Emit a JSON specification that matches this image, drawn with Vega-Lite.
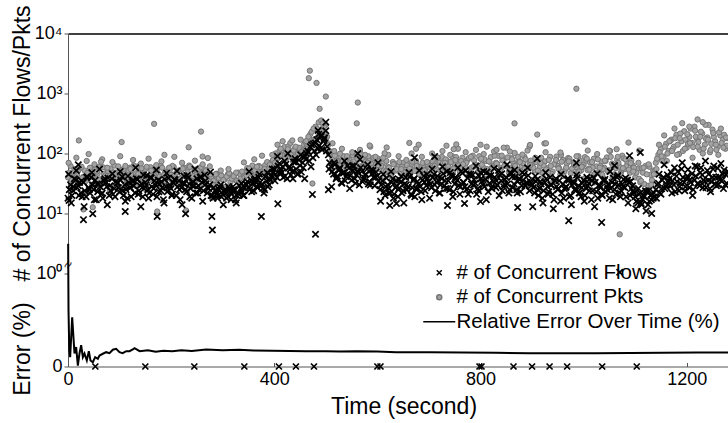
{
"$schema":"https://vega.github.io/schema/vega-lite/v6.json",
"background":"white",
"padding":{"left":10,"top":4.5,"right":0,"bottom":0},
"autosize":{"type":"pad"},
"spacing":0,
"bounds":"flush",
"config":{
 "font":"Liberation Sans",
 "view":{"stroke":null},
 "axis":{"grid":false,"domainColor":"#555","tickColor":"#555","labelFont":"Liberation Sans","labelFontSize":18,"labelColor":"#000","titleFont":"Liberation Sans","titleFontSize":23,"titleFontWeight":"normal","titleColor":"#000","labelFlush":false,"labelOverlap":false},
 "legend":{"labelFont":"Liberation Sans","labelFontSize":20.5,"labelColor":"#000","labelLimit":0,"symbolSize":25,"symbolStrokeWidth":1.5,"labelOffset":7,"rowPadding":3.5,"padding":0}
},
"datasets":{
"pts":[
{"t":0,"f":18,"p":40},{"t":5,"f":30,"p":62},{"t":10,"f":24,"p":45},{"t":15,"f":36,"p":38},{"t":20,"f":29,"p":52},{"t":25,"f":22,"p":58},{"t":30,"f":33,"p":41},{"t":35,"f":19,"p":35},{"t":40,"f":27,"p":48},{"t":45,"f":40,"p":55},
{"t":50,"f":25,"p":43},{"t":55,"f":17,"p":31},{"t":60,"f":31,"p":60},{"t":65,"f":21,"p":37},{"t":70,"f":35,"p":46},{"t":75,"f":28,"p":57},{"t":80,"f":20,"p":42},{"t":85,"f":38,"p":50},{"t":90,"f":26,"p":63},{"t":95,"f":32,"p":44},
{"t":100,"f":23,"p":39},{"t":105,"f":41,"p":53},{"t":110,"f":30,"p":47},{"t":115,"f":18,"p":34},{"t":120,"f":27,"p":58},{"t":125,"f":34,"p":45},{"t":130,"f":22,"p":40},{"t":135,"f":37,"p":61},{"t":140,"f":29,"p":49},{"t":145,"f":19,"p":36},
{"t":150,"f":33,"p":55},{"t":155,"f":25,"p":42},{"t":160,"f":40,"p":59},{"t":165,"f":21,"p":38},{"t":170,"f":30,"p":51},{"t":175,"f":36,"p":46},{"t":180,"f":24,"p":62},{"t":185,"f":17,"p":33},{"t":190,"f":28,"p":49},{"t":195,"f":39,"p":56},
{"t":200,"f":26,"p":44},{"t":205,"f":32,"p":60},{"t":210,"f":20,"p":37},{"t":215,"f":35,"p":52},{"t":220,"f":27,"p":47},{"t":225,"f":42,"p":58},{"t":230,"f":23,"p":41},{"t":235,"f":31,"p":63},{"t":240,"f":18,"p":35},{"t":245,"f":29,"p":50},
{"t":250,"f":38,"p":45},{"t":255,"f":25,"p":57},{"t":260,"f":33,"p":48},{"t":265,"f":44,"p":54},{"t":270,"f":22,"p":39},{"t":275,"f":30,"p":61},{"t":280,"f":20,"p":36},{"t":285,"f":24,"p":43},{"t":290,"f":18,"p":34},{"t":295,"f":27,"p":47},
{"t":300,"f":21,"p":40},{"t":305,"f":25,"p":38},{"t":310,"f":19,"p":45},{"t":315,"f":23,"p":33},{"t":320,"f":28,"p":42},{"t":325,"f":17,"p":36},{"t":330,"f":22,"p":48},{"t":335,"f":26,"p":39},{"t":340,"f":20,"p":44},{"t":345,"f":31,"p":50},
{"t":350,"f":27,"p":55},{"t":355,"f":36,"p":46},{"t":360,"f":24,"p":58},{"t":365,"f":33,"p":41},{"t":370,"f":40,"p":62},{"t":375,"f":29,"p":53},{"t":380,"f":22,"p":45},{"t":385,"f":35,"p":60},{"t":390,"f":30,"p":49},{"t":395,"f":43,"p":66},
{"t":400,"f":55,"p":92},{"t":405,"f":40,"p":80},{"t":410,"f":68,"p":110},{"t":415,"f":48,"p":95},{"t":420,"f":75,"p":128},{"t":425,"f":38,"p":85},{"t":430,"f":60,"p":105},{"t":435,"f":50,"p":88},{"t":440,"f":82,"p":120},{"t":445,"f":45,"p":98},
{"t":450,"f":63,"p":115},{"t":455,"f":70,"p":100},{"t":460,"f":90,"p":130},{"t":465,"f":110,"p":160},{"t":470,"f":130,"p":210},{"t":475,"f":85,"p":150},{"t":480,"f":150,"p":280},{"t":485,"f":120,"p":190},{"t":490,"f":200,"p":250},{"t":495,"f":160,"p":220},
{"t":500,"f":240,"p":300},{"t":505,"f":95,"p":140},{"t":510,"f":60,"p":95},{"t":515,"f":45,"p":72},{"t":520,"f":38,"p":85},{"t":525,"f":52,"p":63},{"t":530,"f":33,"p":78},{"t":535,"f":48,"p":90},{"t":540,"f":41,"p":66},{"t":545,"f":57,"p":82},
{"t":550,"f":36,"p":58},{"t":555,"f":62,"p":74},{"t":560,"f":44,"p":96},{"t":565,"f":30,"p":61},{"t":570,"f":50,"p":80},{"t":575,"f":39,"p":70},{"t":580,"f":55,"p":88},{"t":585,"f":34,"p":57},{"t":590,"f":46,"p":76},{"t":595,"f":29,"p":64},
{"t":600,"f":42,"p":83},{"t":605,"f":25,"p":55},{"t":610,"f":35,"p":68},{"t":615,"f":20,"p":48},{"t":620,"f":30,"p":60},{"t":625,"f":22,"p":44},{"t":630,"f":38,"p":72},{"t":635,"f":27,"p":52},{"t":640,"f":19,"p":63},{"t":645,"f":33,"p":47},
{"t":650,"f":24,"p":70},{"t":655,"f":40,"p":58},{"t":660,"f":28,"p":42},{"t":665,"f":21,"p":66},{"t":670,"f":36,"p":54},{"t":675,"f":26,"p":75},{"t":680,"f":31,"p":49},{"t":685,"f":23,"p":61},{"t":690,"f":42,"p":57},{"t":695,"f":29,"p":45},
{"t":700,"f":34,"p":69},{"t":705,"f":27,"p":62},{"t":710,"f":45,"p":80},{"t":715,"f":33,"p":55},{"t":720,"f":22,"p":70},{"t":725,"f":38,"p":88},{"t":730,"f":29,"p":58},{"t":735,"f":50,"p":76},{"t":740,"f":25,"p":52},{"t":745,"f":41,"p":90},
{"t":750,"f":31,"p":64},{"t":755,"f":36,"p":73},{"t":760,"f":21,"p":50},{"t":765,"f":47,"p":85},{"t":770,"f":28,"p":60},{"t":775,"f":39,"p":78},{"t":780,"f":24,"p":56},{"t":785,"f":44,"p":92},{"t":790,"f":32,"p":66},{"t":795,"f":26,"p":49},
{"t":800,"f":48,"p":82},{"t":805,"f":30,"p":59},{"t":810,"f":37,"p":75},{"t":815,"f":23,"p":53},{"t":820,"f":43,"p":87},{"t":825,"f":34,"p":63},{"t":830,"f":27,"p":70},{"t":835,"f":52,"p":91},{"t":840,"f":35,"p":57},{"t":845,"f":28,"p":79},
{"t":850,"f":40,"p":62},{"t":855,"f":22,"p":48},{"t":860,"f":46,"p":84},{"t":865,"f":31,"p":68},{"t":870,"f":25,"p":55},{"t":875,"f":38,"p":76},{"t":880,"f":29,"p":61},{"t":885,"f":45,"p":89},{"t":890,"f":33,"p":58},{"t":895,"f":24,"p":72},
{"t":900,"f":30,"p":67},{"t":905,"f":22,"p":52},{"t":910,"f":37,"p":80},{"t":915,"f":26,"p":60},{"t":920,"f":18,"p":48},{"t":925,"f":33,"p":74},{"t":930,"f":28,"p":57},{"t":935,"f":40,"p":88},{"t":940,"f":21,"p":50},{"t":945,"f":35,"p":69},
{"t":950,"f":25,"p":62},{"t":955,"f":16,"p":45},{"t":960,"f":31,"p":78},{"t":965,"f":27,"p":55},{"t":970,"f":38,"p":84},{"t":975,"f":20,"p":47},{"t":980,"f":34,"p":71},{"t":985,"f":24,"p":59},{"t":990,"f":29,"p":90},{"t":995,"f":19,"p":52},
{"t":1000,"f":36,"p":65},{"t":1005,"f":26,"p":76},{"t":1010,"f":32,"p":56},{"t":1015,"f":17,"p":44},{"t":1020,"f":39,"p":82},{"t":1025,"f":23,"p":61},{"t":1030,"f":30,"p":49},{"t":1035,"f":21,"p":73},{"t":1040,"f":35,"p":58},{"t":1045,"f":28,"p":86},
{"t":1050,"f":18,"p":53},{"t":1055,"f":33,"p":68},{"t":1060,"f":25,"p":45},{"t":1065,"f":40,"p":79},{"t":1070,"f":22,"p":60},{"t":1075,"f":31,"p":92},{"t":1080,"f":27,"p":55},{"t":1085,"f":36,"p":70},{"t":1090,"f":20,"p":48},{"t":1095,"f":29,"p":64},
{"t":1100,"f":19,"p":40},{"t":1105,"f":15,"p":55},{"t":1110,"f":22,"p":33},{"t":1115,"f":17,"p":48},{"t":1120,"f":24,"p":62},{"t":1125,"f":14,"p":29},{"t":1130,"f":20,"p":44},{"t":1135,"f":18,"p":52},
{"t":1140,"f":25,"p":70},{"t":1145,"f":32,"p":95},{"t":1150,"f":21,"p":120},{"t":1155,"f":40,"p":88},{"t":1160,"f":28,"p":145},{"t":1165,"f":35,"p":110},{"t":1170,"f":48,"p":170},{"t":1175,"f":30,"p":130},{"t":1180,"f":42,"p":205},{"t":1185,"f":24,"p":98},
{"t":1190,"f":55,"p":160},{"t":1195,"f":33,"p":235},{"t":1200,"f":38,"p":125},{"t":1205,"f":27,"p":190},{"t":1210,"f":46,"p":150},{"t":1215,"f":36,"p":280},{"t":1220,"f":60,"p":175},{"t":1225,"f":29,"p":115},{"t":1230,"f":44,"p":215},{"t":1235,"f":34,"p":140},
{"t":1240,"f":52,"p":185},{"t":1245,"f":26,"p":105},{"t":1250,"f":40,"p":250},{"t":1255,"f":31,"p":160},{"t":1260,"f":57,"p":130},{"t":1265,"f":37,"p":200},{"t":1270,"f":45,"p":170},{"t":1275,"f":30,"p":120},{"t":1280,"f":50,"p":180},
{"t":2.5,"f":25,"p":48},{"t":7.5,"f":20,"p":36},{"t":12.5,"f":38,"p":55},{"t":17.5,"f":27,"p":44},{"t":22.5,"f":33,"p":60},{"t":27.5,"f":19,"p":39},{"t":32.5,"f":24,"p":52},{"t":37.5,"f":41,"p":47},{"t":42.5,"f":22,"p":58},{"t":47.5,"f":30,"p":41},
{"t":52.5,"f":36,"p":54},{"t":57.5,"f":23,"p":46},{"t":62.5,"f":28,"p":37},{"t":67.5,"f":18,"p":59},{"t":72.5,"f":32,"p":43},{"t":77.5,"f":39,"p":51},{"t":82.5,"f":24,"p":56},{"t":87.5,"f":21,"p":40},{"t":92.5,"f":34,"p":48},{"t":97.5,"f":27,"p":61},
{"t":102.5,"f":36,"p":42},{"t":107.5,"f":20,"p":55},{"t":112.5,"f":25,"p":38},{"t":117.5,"f":33,"p":52},{"t":122.5,"f":19,"p":44},{"t":127.5,"f":29,"p":63},{"t":132.5,"f":38,"p":47},{"t":137.5,"f":24,"p":39},{"t":142.5,"f":31,"p":57},{"t":147.5,"f":26,"p":45},
{"t":152.5,"f":43,"p":60},{"t":157.5,"f":22,"p":36},{"t":162.5,"f":28,"p":50},{"t":167.5,"f":35,"p":43},{"t":172.5,"f":19,"p":55},{"t":177.5,"f":31,"p":41},{"t":182.5,"f":27,"p":58},{"t":187.5,"f":37,"p":47},{"t":192.5,"f":23,"p":39},{"t":197.5,"f":30,"p":53},
{"t":202.5,"f":21,"p":62},{"t":207.5,"f":36,"p":45},{"t":212.5,"f":28,"p":51},{"t":217.5,"f":17,"p":38},{"t":222.5,"f":32,"p":56},{"t":227.5,"f":25,"p":43},{"t":232.5,"f":39,"p":49},{"t":237.5,"f":26,"p":60},{"t":242.5,"f":34,"p":42},{"t":247.5,"f":22,"p":54},
{"t":252.5,"f":29,"p":37},{"t":257.5,"f":41,"p":59},{"t":262.5,"f":24,"p":46},{"t":267.5,"f":31,"p":52},{"t":272.5,"f":26,"p":44},{"t":277.5,"f":20,"p":41},{"t":282.5,"f":27,"p":35},{"t":287.5,"f":21,"p":46},{"t":292.5,"f":25,"p":39},{"t":297.5,"f":19,"p":43},
{"t":302.5,"f":24,"p":36},{"t":307.5,"f":18,"p":41},{"t":312.5,"f":26,"p":47},{"t":317.5,"f":21,"p":38},{"t":322.5,"f":24,"p":44},{"t":327.5,"f":20,"p":35},{"t":332.5,"f":29,"p":46},{"t":337.5,"f":23,"p":50},{"t":342.5,"f":27,"p":40},{"t":347.5,"f":34,"p":57},
{"t":352.5,"f":25,"p":48},{"t":357.5,"f":31,"p":63},{"t":362.5,"f":38,"p":52},{"t":367.5,"f":27,"p":45},{"t":372.5,"f":33,"p":59},{"t":377.5,"f":26,"p":50},{"t":382.5,"f":41,"p":64},{"t":387.5,"f":28,"p":55},{"t":392.5,"f":36,"p":70},{"t":397.5,"f":48,"p":78},
{"t":402.5,"f":45,"p":100},{"t":407.5,"f":62,"p":85},{"t":412.5,"f":52,"p":120},{"t":417.5,"f":40,"p":90},{"t":422.5,"f":66,"p":108},{"t":427.5,"f":57,"p":132},{"t":432.5,"f":44,"p":95},{"t":437.5,"f":72,"p":112},{"t":442.5,"f":55,"p":90},{"t":447.5,"f":78,"p":125},
{"t":452.5,"f":49,"p":105},{"t":457.5,"f":85,"p":140},{"t":462.5,"f":100,"p":145},{"t":467.5,"f":75,"p":180},{"t":472.5,"f":140,"p":230},{"t":477.5,"f":110,"p":170},{"t":482.5,"f":170,"p":260},{"t":487.5,"f":135,"p":200},{"t":492.5,"f":115,"p":240},{"t":497.5,"f":180,"p":210},
{"t":502.5,"f":130,"p":190},{"t":507.5,"f":70,"p":110},{"t":512.5,"f":50,"p":80},{"t":517.5,"f":65,"p":92},{"t":522.5,"f":42,"p":70},{"t":527.5,"f":58,"p":99},{"t":532.5,"f":47,"p":75},{"t":537.5,"f":35,"p":60},{"t":542.5,"f":63,"p":87},{"t":547.5,"f":43,"p":68},
{"t":552.5,"f":52,"p":93},{"t":557.5,"f":32,"p":62},{"t":562.5,"f":48,"p":79},{"t":567.5,"f":58,"p":100},{"t":572.5,"f":37,"p":65},{"t":577.5,"f":45,"p":73},{"t":582.5,"f":31,"p":90},{"t":587.5,"f":53,"p":68},{"t":592.5,"f":40,"p":85},{"t":597.5,"f":49,"p":58},
{"t":602.5,"f":35,"p":74},{"t":607.5,"f":30,"p":62},{"t":612.5,"f":23,"p":52},{"t":617.5,"f":39,"p":75},{"t":622.5,"f":26,"p":58},{"t":627.5,"f":33,"p":46},{"t":632.5,"f":21,"p":67},{"t":637.5,"f":29,"p":55},{"t":642.5,"f":37,"p":72},{"t":647.5,"f":22,"p":60},
{"t":652.5,"f":31,"p":48},{"t":657.5,"f":25,"p":64},{"t":662.5,"f":41,"p":56},{"t":667.5,"f":27,"p":73},{"t":672.5,"f":19,"p":51},{"t":677.5,"f":34,"p":62},{"t":682.5,"f":28,"p":44},{"t":687.5,"f":36,"p":70},{"t":692.5,"f":24,"p":53},{"t":697.5,"f":39,"p":66},
{"t":702.5,"f":31,"p":58},{"t":707.5,"f":40,"p":74},{"t":712.5,"f":24,"p":66},{"t":717.5,"f":36,"p":85},{"t":722.5,"f":30,"p":52},{"t":727.5,"f":46,"p":70},{"t":732.5,"f":26,"p":80},{"t":737.5,"f":35,"p":60},{"t":742.5,"f":43,"p":72},{"t":747.5,"f":23,"p":56},
{"t":752.5,"f":38,"p":87},{"t":757.5,"f":29,"p":63},{"t":762.5,"f":50,"p":75},{"t":767.5,"f":33,"p":52},{"t":772.5,"f":25,"p":70},{"t":777.5,"f":45,"p":84},{"t":782.5,"f":31,"p":58},{"t":787.5,"f":37,"p":77},{"t":792.5,"f":21,"p":61},{"t":797.5,"f":42,"p":90},
{"t":802.5,"f":34,"p":65},{"t":807.5,"f":28,"p":80},{"t":812.5,"f":49,"p":55},{"t":817.5,"f":32,"p":73},{"t":822.5,"f":26,"p":59},{"t":827.5,"f":40,"p":92},{"t":832.5,"f":30,"p":67},{"t":837.5,"f":44,"p":53},{"t":842.5,"f":24,"p":77},{"t":847.5,"f":37,"p":64},
{"t":852.5,"f":31,"p":86},{"t":857.5,"f":48,"p":58},{"t":862.5,"f":27,"p":74},{"t":867.5,"f":41,"p":62},{"t":872.5,"f":34,"p":88},{"t":877.5,"f":23,"p":51},{"t":882.5,"f":36,"p":69},{"t":887.5,"f":29,"p":80},{"t":892.5,"f":43,"p":57},{"t":897.5,"f":32,"p":76},
{"t":902.5,"f":27,"p":58},{"t":907.5,"f":34,"p":72},{"t":912.5,"f":20,"p":50},{"t":917.5,"f":31,"p":85},{"t":922.5,"f":24,"p":63},{"t":927.5,"f":38,"p":54},{"t":932.5,"f":23,"p":78},{"t":937.5,"f":30,"p":46},{"t":942.5,"f":17,"p":66},{"t":947.5,"f":28,"p":89},
{"t":952.5,"f":35,"p":57},{"t":957.5,"f":22,"p":73},{"t":962.5,"f":26,"p":50},{"t":967.5,"f":37,"p":68},{"t":972.5,"f":19,"p":82},{"t":977.5,"f":30,"p":56},{"t":982.5,"f":25,"p":64},{"t":987.5,"f":39,"p":48},{"t":992.5,"f":22,"p":76},{"t":997.5,"f":32,"p":60},
{"t":1002.5,"f":20,"p":87},{"t":1007.5,"f":29,"p":53},{"t":1012.5,"f":38,"p":71},{"t":1017.5,"f":24,"p":58},{"t":1022.5,"f":33,"p":47},{"t":1027.5,"f":18,"p":80},{"t":1032.5,"f":27,"p":62},{"t":1037.5,"f":36,"p":55},{"t":1042.5,"f":23,"p":75},{"t":1047.5,"f":31,"p":50},
{"t":1052.5,"f":26,"p":88},{"t":1057.5,"f":39,"p":63},{"t":1062.5,"f":21,"p":57},{"t":1067.5,"f":30,"p":70},{"t":1072.5,"f":24,"p":49},{"t":1077.5,"f":37,"p":83},{"t":1082.5,"f":19,"p":61},{"t":1087.5,"f":33,"p":54},{"t":1092.5,"f":26,"p":77},{"t":1097.5,"f":22,"p":58},
{"t":1102.5,"f":16,"p":48},{"t":1107.5,"f":21,"p":38},{"t":1112.5,"f":14,"p":57},{"t":1117.5,"f":19,"p":31},{"t":1122.5,"f":23,"p":45},{"t":1127.5,"f":16,"p":60},{"t":1132.5,"f":21,"p":36},{"t":1137.5,"f":19,"p":50},
{"t":1142.5,"f":30,"p":82},{"t":1147.5,"f":22,"p":105},{"t":1152.5,"f":36,"p":75},{"t":1157.5,"f":26,"p":130},{"t":1162.5,"f":44,"p":100},{"t":1167.5,"f":29,"p":160},{"t":1172.5,"f":35,"p":118},{"t":1177.5,"f":23,"p":180},{"t":1182.5,"f":50,"p":140},{"t":1187.5,"f":32,"p":215},
{"t":1192.5,"f":40,"p":110},{"t":1197.5,"f":28,"p":170},{"t":1202.5,"f":54,"p":145},{"t":1207.5,"f":33,"p":260},{"t":1212.5,"f":25,"p":128},{"t":1217.5,"f":42,"p":190},{"t":1222.5,"f":31,"p":155},{"t":1227.5,"f":58,"p":230},{"t":1232.5,"f":36,"p":120},{"t":1237.5,"f":27,"p":175},
{"t":1242.5,"f":45,"p":300},{"t":1247.5,"f":34,"p":145},{"t":1252.5,"f":62,"p":190},{"t":1257.5,"f":29,"p":115},{"t":1262.5,"f":41,"p":225},{"t":1267.5,"f":35,"p":150},{"t":1272.5,"f":53,"p":205},{"t":1277.5,"f":32,"p":135},
{"t":1.25,"f":45,"p":70},{"t":6.25,"f":15,"p":25},{"t":11.25,"f":28,"p":48},{"t":16.25,"f":52,"p":85},{"t":21.25,"f":20,"p":32},{"t":26.25,"f":35,"p":60},{"t":31.25,"f":13,"p":22},{"t":36.25,"f":40,"p":75},{"t":41.25,"f":25,"p":40},{"t":46.25,"f":48,"p":30},
{"t":51.25,"f":17,"p":66},{"t":56.25,"f":31,"p":50},{"t":61.25,"f":55,"p":28},{"t":66.25,"f":22,"p":80},{"t":71.25,"f":38,"p":35},{"t":76.25,"f":14,"p":58},{"t":81.25,"f":29,"p":24},{"t":86.25,"f":46,"p":72},{"t":91.25,"f":19,"p":45},{"t":96.25,"f":33,"p":38},
{"t":101.25,"f":50,"p":90},{"t":106.25,"f":24,"p":27},{"t":111.25,"f":16,"p":62},{"t":116.25,"f":42,"p":33},{"t":121.25,"f":27,"p":55},{"t":126.25,"f":36,"p":78},{"t":131.25,"f":58,"p":29},{"t":136.25,"f":21,"p":46},{"t":141.25,"f":13,"p":68},{"t":146.25,"f":44,"p":36},
{"t":151.25,"f":30,"p":25},{"t":156.25,"f":18,"p":82},{"t":161.25,"f":39,"p":52},{"t":166.25,"f":26,"p":40},{"t":171.25,"f":53,"p":64},{"t":176.25,"f":23,"p":30},{"t":181.25,"f":34,"p":74},{"t":186.25,"f":15,"p":44},{"t":191.25,"f":47,"p":26},{"t":196.25,"f":28,"p":58},
{"t":201.25,"f":20,"p":36},{"t":206.25,"f":37,"p":88},{"t":211.25,"f":51,"p":48},{"t":216.25,"f":25,"p":31},{"t":221.25,"f":14,"p":70},{"t":226.25,"f":32,"p":42},{"t":231.25,"f":43,"p":23},{"t":236.25,"f":19,"p":60},{"t":241.25,"f":29,"p":34},{"t":246.25,"f":55,"p":76},
{"t":251.25,"f":22,"p":52},{"t":256.25,"f":40,"p":28},{"t":261.25,"f":16,"p":66},{"t":266.25,"f":35,"p":39},{"t":271.25,"f":27,"p":84},{"t":276.25,"f":49,"p":45},{"t":281.25,"f":18,"p":30},{"t":286.25,"f":24,"p":45},{"t":291.25,"f":20,"p":25},{"t":296.25,"f":30,"p":52},
{"t":301.25,"f":14,"p":36},{"t":306.25,"f":22,"p":28},{"t":311.25,"f":28,"p":55},{"t":316.25,"f":17,"p":24},{"t":321.25,"f":25,"p":42},{"t":326.25,"f":15,"p":48},{"t":331.25,"f":21,"p":33},{"t":336.25,"f":32,"p":24},{"t":341.25,"f":20,"p":71},{"t":346.25,"f":30,"p":43},
{"t":351.25,"f":50,"p":56},{"t":356.25,"f":23,"p":32},{"t":361.25,"f":36,"p":80},{"t":366.25,"f":28,"p":60},{"t":371.25,"f":45,"p":46},{"t":376.25,"f":31,"p":92},{"t":381.25,"f":25,"p":55},{"t":386.25,"f":48,"p":72},{"t":391.25,"f":38,"p":65},{"t":396.25,"f":55,"p":95},
{"t":401.25,"f":35,"p":70},{"t":406.25,"f":90,"p":140},{"t":411.25,"f":48,"p":95},{"t":416.25,"f":60,"p":160},{"t":421.25,"f":42,"p":82},{"t":426.25,"f":100,"p":118},{"t":431.25,"f":55,"p":150},{"t":436.25,"f":38,"p":75},{"t":441.25,"f":72,"p":130},{"t":446.25,"f":46,"p":100},
{"t":451.25,"f":95,"p":170},{"t":456.25,"f":58,"p":90},{"t":461.25,"f":80,"p":120},{"t":466.25,"f":105,"p":190},{"t":471.25,"f":60,"p":140},{"t":476.25,"f":145,"p":260},{"t":481.25,"f":95,"p":175},{"t":486.25,"f":210,"p":330},{"t":491.25,"f":125,"p":230},{"t":496.25,"f":170,"p":280},
{"t":501.25,"f":110,"p":160},{"t":506.25,"f":55,"p":100},{"t":511.25,"f":28,"p":55},{"t":516.25,"f":70,"p":110},{"t":521.25,"f":40,"p":75},{"t":526.25,"f":55,"p":62},{"t":531.25,"f":32,"p":120},{"t":536.25,"f":75,"p":48},{"t":541.25,"f":45,"p":90},{"t":546.25,"f":26,"p":68},
{"t":551.25,"f":62,"p":105},{"t":556.25,"f":38,"p":52},{"t":561.25,"f":50,"p":82},{"t":566.25,"f":80,"p":115},{"t":571.25,"f":34,"p":60},{"t":576.25,"f":44,"p":95},{"t":581.25,"f":65,"p":70},{"t":586.25,"f":30,"p":130},{"t":591.25,"f":52,"p":58},{"t":596.25,"f":40,"p":88},
{"t":601.25,"f":70,"p":64},{"t":606.25,"f":16,"p":38},{"t":611.25,"f":45,"p":85},{"t":616.25,"f":28,"p":50},{"t":621.25,"f":22,"p":95},{"t":626.25,"f":50,"p":42},{"t":631.25,"f":18,"p":66},{"t":636.25,"f":35,"p":35},{"t":641.25,"f":26,"p":90},{"t":646.25,"f":42,"p":55},
{"t":651.25,"f":15,"p":40},{"t":656.25,"f":30,"p":78},{"t":661.25,"f":48,"p":48},{"t":666.25,"f":20,"p":100},{"t":671.25,"f":38,"p":36},{"t":676.25,"f":25,"p":62},{"t":681.25,"f":52,"p":45},{"t":686.25,"f":17,"p":88},{"t":691.25,"f":33,"p":52},{"t":696.25,"f":45,"p":72},
{"t":701.25,"f":18,"p":45},{"t":706.25,"f":55,"p":100},{"t":711.25,"f":30,"p":62},{"t":716.25,"f":42,"p":85},{"t":721.25,"f":22,"p":40},{"t":726.25,"f":60,"p":110},{"t":731.25,"f":35,"p":70},{"t":736.25,"f":26,"p":52},{"t":741.25,"f":48,"p":95},{"t":746.25,"f":19,"p":48},
{"t":751.25,"f":40,"p":78},{"t":756.25,"f":58,"p":120},{"t":761.25,"f":28,"p":58},{"t":766.25,"f":33,"p":66},{"t":771.25,"f":52,"p":105},{"t":776.25,"f":21,"p":42},{"t":781.25,"f":45,"p":88},{"t":786.25,"f":30,"p":60},{"t":791.25,"f":62,"p":115},{"t":796.25,"f":24,"p":50},
{"t":801.25,"f":38,"p":82},{"t":806.25,"f":50,"p":98},{"t":811.25,"f":17,"p":38},{"t":816.25,"f":43,"p":74},{"t":821.25,"f":27,"p":55},{"t":826.25,"f":56,"p":108},{"t":831.25,"f":35,"p":68},{"t":836.25,"f":20,"p":44},{"t":841.25,"f":46,"p":92},{"t":846.25,"f":31,"p":62},
{"t":851.25,"f":65,"p":125},{"t":856.25,"f":25,"p":52},{"t":861.25,"f":41,"p":80},{"t":866.25,"f":53,"p":102},{"t":871.25,"f":22,"p":46},{"t":876.25,"f":37,"p":72},{"t":881.25,"f":48,"p":96},{"t":886.25,"f":29,"p":56},{"t":891.25,"f":58,"p":112},{"t":896.25,"f":34,"p":64},
{"t":901.25,"f":13,"p":36},{"t":906.25,"f":42,"p":85},{"t":911.25,"f":25,"p":52},{"t":916.25,"f":34,"p":70},{"t":921.25,"f":15,"p":40},{"t":926.25,"f":48,"p":105},{"t":931.25,"f":21,"p":48},{"t":936.25,"f":30,"p":62},{"t":941.25,"f":12,"p":34},{"t":946.25,"f":38,"p":78},
{"t":951.25,"f":26,"p":56},{"t":956.25,"f":45,"p":95},{"t":961.25,"f":18,"p":42},{"t":966.25,"f":28,"p":58},{"t":971.25,"f":36,"p":74},{"t":976.25,"f":14,"p":35},{"t":981.25,"f":32,"p":66},{"t":986.25,"f":44,"p":90},{"t":991.25,"f":22,"p":50},{"t":996.25,"f":27,"p":60},
{"t":1001.25,"f":16,"p":38},{"t":1006.25,"f":40,"p":82},{"t":1011.25,"f":24,"p":54},{"t":1016.25,"f":35,"p":72},{"t":1021.25,"f":13,"p":33},{"t":1026.25,"f":46,"p":98},{"t":1031.25,"f":29,"p":58},{"t":1036.25,"f":20,"p":44},{"t":1041.25,"f":37,"p":76},{"t":1046.25,"f":25,"p":52},
{"t":1051.25,"f":50,"p":110},{"t":1056.25,"f":17,"p":40},{"t":1061.25,"f":31,"p":64},{"t":1066.25,"f":43,"p":88},{"t":1071.25,"f":19,"p":46},{"t":1076.25,"f":28,"p":57},{"t":1081.25,"f":39,"p":80},{"t":1086.25,"f":15,"p":36},{"t":1091.25,"f":34,"p":69},{"t":1096.25,"f":24,"p":50},
{"t":1101.25,"f":12,"p":25},{"t":1106.25,"f":26,"p":70},{"t":1111.25,"f":15,"p":35},{"t":1116.25,"f":20,"p":58},{"t":1121.25,"f":11,"p":24},{"t":1126.25,"f":24,"p":66},{"t":1131.25,"f":17,"p":30},{"t":1136.25,"f":22,"p":45},
{"t":1141.25,"f":18,"p":55},{"t":1146.25,"f":45,"p":140},{"t":1151.25,"f":26,"p":90},{"t":1156.25,"f":65,"p":200},{"t":1161.25,"f":30,"p":75},{"t":1166.25,"f":38,"p":160},{"t":1171.25,"f":22,"p":110},{"t":1176.25,"f":58,"p":260},{"t":1181.25,"f":34,"p":95},{"t":1186.25,"f":28,"p":180},
{"t":1191.25,"f":70,"p":320},{"t":1196.25,"f":24,"p":120},{"t":1201.25,"f":42,"p":210},{"t":1206.25,"f":36,"p":150},{"t":1211.25,"f":20,"p":85},{"t":1216.25,"f":62,"p":240},{"t":1221.25,"f":32,"p":130},{"t":1226.25,"f":48,"p":190},{"t":1231.25,"f":27,"p":100},{"t":1236.25,"f":75,"p":300},
{"t":1241.25,"f":35,"p":170},{"t":1246.25,"f":23,"p":115},{"t":1251.25,"f":55,"p":220},{"t":1256.25,"f":40,"p":140},{"t":1261.25,"f":30,"p":95},{"t":1266.25,"f":68,"p":260},{"t":1271.25,"f":26,"p":125},{"t":1276.25,"f":44,"p":185},
{"t":21,"p":165},{"t":40,"p":98},{"t":64,"p":73},{"t":104,"p":155},{"t":167,"p":312},{"t":187,"p":95},{"t":234,"p":127},{"t":258,"p":232},{"t":261,"p":89},{"t":435,"p":165},{"t":461,"p":158},
{"t":30,"p":11.7},{"t":48,"p":12.7},{"t":173,"p":10.8},{"t":229,"p":11.2},{"t":279,"p":18.3},
{"t":469,"p":2400},{"t":467,"p":1800},{"t":482,"p":1500},{"t":500,"p":890},{"t":488,"p":556},{"t":491,"p":355},{"t":494,"p":316},{"t":462,"p":161},{"t":513,"p":148},{"t":481,"p":170},{"t":474,"p":31.6},
{"t":562,"p":707},{"t":560,"p":318},{"t":585,"p":136},{"t":618,"p":126},{"t":614,"p":101},{"t":662,"p":150},{"t":675,"p":120},{"t":680,"p":140},{"t":734,"p":135},{"t":748,"p":118},{"t":753,"p":142},
{"t":800,"p":140},{"t":812,"p":130},{"t":831,"p":115},{"t":845,"p":125},{"t":857,"p":108},{"t":866,"p":318},{"t":895,"p":130},{"t":896,"p":139},{"t":910,"p":207},{"t":924,"p":147},{"t":927,"p":148},
{"t":955,"p":104},{"t":986,"p":1200},{"t":1002,"p":158},{"t":1008,"p":112},{"t":1050,"p":112},{"t":1064,"p":118},{"t":1087,"p":152},{"t":1070,"p":4.5},{"t":1108,"p":112},{"t":1205,"p":280},{"t":1221,"p":370},{"t":1231,"p":333},
{"t":20,"f":65},{"t":2,"f":16.5},{"t":30,"f":7.9},{"t":48,"f":9.9},{"t":111,"f":10.8},{"t":173,"f":8.9},{"t":228,"f":9.9},{"t":279,"f":8.9},{"t":280,"f":5.3},{"t":375,"f":8.9},{"t":407,"f":14.5},
{"t":500,"f":333},{"t":485,"f":242},{"t":491,"f":191},{"t":497,"f":182},{"t":474,"f":20.8},{"t":459,"f":38},{"t":505,"f":25},{"t":480,"f":4.5},{"t":562,"f":100},
{"t":624,"f":13.6},{"t":637,"f":14.7},{"t":672,"f":85},{"t":711,"f":89},{"t":736,"f":13.6},{"t":769,"f":14.7},{"t":800,"f":15.8},{"t":872,"f":12.6},
{"t":910,"f":82},{"t":986,"f":70},{"t":1060,"f":63},{"t":1089,"f":92},{"t":1110,"f":104},{"t":971,"f":7.6},{"t":1035,"f":7.1},{"t":1122,"f":6.3},{"t":1132,"f":10},{"t":1070,"f":1.05}
],
"zero":[{"t":53,"f":0},{"t":150,"f":0},{"t":245,"f":0},{"t":342,"f":0},{"t":409,"f":0},{"t":442,"f":0},{"t":477,"f":0},{"t":600,"f":0},{"t":606,"f":0},{"t":798,"f":0},{"t":802,"f":0},{"t":864,"f":0},{"t":900,"f":0},{"t":934,"f":0},{"t":968,"f":0},{"t":1036,"f":0},{"t":1103,"f":0}],
"err":[
{"t":0.3,"e":132},{"t":1,"e":60},{"t":2.5,"e":17},{"t":4.2,"e":10},{"t":8.1,"e":53},{"t":12.6,"e":14},{"t":15.8,"e":21},{"t":19.1,"e":1},{"t":22.3,"e":14},{"t":25.5,"e":23},{"t":28.8,"e":10},{"t":32,"e":14},{"t":36.5,"e":6.5},{"t":40.4,"e":16.5},{"t":43.6,"e":6.5},{"t":48.2,"e":4.6},{"t":52.7,"e":10},{"t":57.9,"e":8.3},{"t":61.1,"e":11.8},{"t":67.6,"e":13.7},{"t":74,"e":15.4},{"t":80.5,"e":14.3},{"t":86.9,"e":18},{"t":93.4,"e":19},{"t":99.9,"e":15.4},{"t":106,"e":14.3},{"t":113,"e":16.5},{"t":119.3,"e":16.5},{"t":125.7,"e":18.3},{"t":129,"e":19.7},{"t":139,"e":16.5},{"t":155,"e":17.5},{"t":170,"e":16},{"t":185,"e":17},{"t":202,"e":16.5},{"t":220,"e":17.5},{"t":240,"e":16.8},{"t":268,"e":18.3},{"t":300,"e":17.5},{"t":332,"e":18},{"t":360,"e":17.2},{"t":396,"e":17},{"t":430,"e":16.8},{"t":462,"e":16.5},{"t":500,"e":16.3},{"t":527,"e":16.1},{"t":560,"e":16.5},{"t":600,"e":16},{"t":636,"e":15.4},{"t":700,"e":15.2},{"t":765,"e":15},{"t":830,"e":14.8},{"t":895,"e":14.3},{"t":960,"e":14.3},{"t":1024,"e":14.3},{"t":1090,"e":14.5},{"t":1154,"e":14.8},{"t":1220,"e":15},{"t":1280,"e":15}
]
},
"vconcat":[
{"width":660,"height":240,
 "layer":[
  {"data":{"name":"pts"},
   "mark":{"type":"point","opacity":1,"strokeWidth":1,"size":28},
   "encoding":{
    "x":{"field":"t","type":"quantitative","scale":{"domain":[0,1280],"nice":false,"zero":false},"axis":{"orient":"top","labels":false,"ticks":false,"domainColor":"#000","domainWidth":1.5,"title":null}},
    "y":{"field":"p","type":"quantitative","scale":{"type":"log","domain":[1,10000],"nice":false},"axis":{"values":[1,10,100,1000,10000],"labelExpr":"'10' + ['⁰','¹','²','³','⁴'][round(log(datum.value)/LN10)]","title":"# of Concurrent Flows/Pkts","titleX":-39,"titleY":109.5,"titleBaseline":"alphabetic","tickSize":4,"labelPadding":2}},
    "shape":{"datum":"# of Concurrent Pkts","scale":{"domain":["# of Concurrent Flows","# of Concurrent Pkts","Relative Error Over Time (%)"],"range":["M-1,-1L1,1M-1,1L1,-1","circle","M-6.4,0L6.4,0"]},"legend":{"orient":"none","legendX":361,"legendY":229,"title":null}},
    "fill":{"datum":"# of Concurrent Pkts","scale":{"domain":["# of Concurrent Flows","# of Concurrent Pkts","Relative Error Over Time (%)"],"range":["transparent","#a3a3a3","transparent"]},"legend":{"orient":"none","legendX":361,"legendY":229,"title":null}},
    "stroke":{"datum":"# of Concurrent Pkts","scale":{"domain":["# of Concurrent Flows","# of Concurrent Pkts","Relative Error Over Time (%)"],"range":["#000000","#757575","#000000"]},"legend":{"orient":"none","legendX":361,"legendY":229,"title":null}}
   }},
  {"data":{"name":"pts"},
   "mark":{"type":"point","opacity":1,"strokeWidth":1.7,"size":40},
   "encoding":{
    "x":{"field":"t","type":"quantitative"},
    "y":{"field":"f","type":"quantitative"},
    "shape":{"datum":"# of Concurrent Flows"},
    "fill":{"datum":"# of Concurrent Flows"},
    "stroke":{"datum":"# of Concurrent Flows"}
   }},
  {"data":{"values":[{"mark":"break"}]},
   "mark":{"type":"text","text":"≈","fontSize":15,"angle":-60,"color":"#333","clip":false},
   "encoding":{"x":{"datum":0},"y":{"datum":1.4}}}
 ]},
{"width":660,"height":93,
 "layer":[
  {"data":{"name":"err"},
   "mark":{"type":"line","strokeWidth":2,"clip":false},
   "encoding":{
    "x":{"field":"t","type":"quantitative","scale":{"domain":[0,1280],"nice":false,"zero":false},"axis":{"values":[0,400,800,1200],"format":"d","title":"Time (second)","titleX":335.5,"titleY":47,"titleBaseline":"alphabetic","tickSize":-4,"labelPadding":8}},
    "y":{"field":"e","type":"quantitative","scale":{"domain":[0,100],"nice":false},"axis":{"values":[0],"title":"Error  (%)","titleX":-39,"titleY":75,"titleBaseline":"alphabetic","tickSize":4,"labelPadding":2}},
    "stroke":{"datum":"Relative Error Over Time (%)","scale":{"domain":["# of Concurrent Flows","# of Concurrent Pkts","Relative Error Over Time (%)"],"range":["#000000","#757575","#000000"]},"legend":{"orient":"none","legendX":361,"legendY":229,"title":null}}
   }},
  {"data":{"name":"zero"},
   "mark":{"type":"point","opacity":1,"strokeWidth":1.7,"size":36,"clip":false},
   "encoding":{
    "x":{"field":"t","type":"quantitative"},
    "y":{"field":"f","type":"quantitative"},
    "shape":{"datum":"# of Concurrent Flows"},
    "fill":{"datum":"# of Concurrent Flows"},
    "stroke":{"datum":"# of Concurrent Flows"}
   }}
 ]}
]
}
